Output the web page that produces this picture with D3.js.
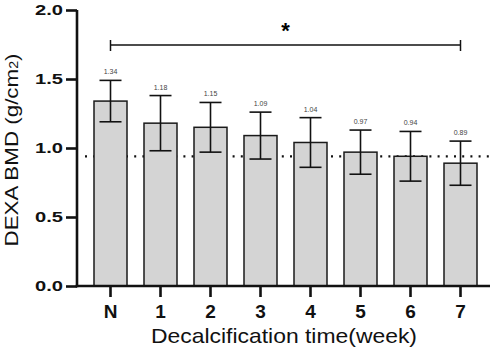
<!DOCTYPE html>
<html>
<head>
<meta charset="utf-8">
<script src="https://cdn.jsdelivr.net/npm/d3@7"></script>
<style>
  body { margin: 0; background: #fff; }
  svg text { font-family: Arial, "Liberation Sans", sans-serif; }
</style>
</head>
<body>
<svg id="chart"></svg>
<script>
//data
const groups = ["N", "1", "2", "3", "4", "5", "6", "7"];
const means = [1.34, 1.18, 1.15, 1.09, 1.04, 0.97, 0.94, 0.89];
const sds = [0.15, 0.20, 0.18, 0.17, 0.18, 0.16, 0.18, 0.16];
const labels = ["1.34", "1.18", "1.15", "1.09", "1.04", "0.97", "0.94", "0.89"];
const yTicks = [0, 0.5, 1.0, 1.5, 2.0];
const refLine = 0.94;

//constants
const W = 498, H = 351;
const x0 = 77, y0 = 286;

const svg = d3.select("#chart")
    .attr("width", W)
    .attr("height", H);

//scales
const yScale = d3.scaleLinear()
    .domain([0, 2])
    .range([y0, 10]);

const xBand = d3.scaleBand()
    .domain(groups)
    .range([85.5, 485.5])
    .paddingInner(0.34)
    .paddingOuter(0.17);

const cx = d => xBand(d) + xBand.bandwidth() / 2;

//dotted reference line
svg.append("line")
    .attr("x1", 85)
    .attr("x2", 492)
    .attr("y1", yScale(refLine))
    .attr("y2", yScale(refLine))
    .attr("stroke", "#111")
    .attr("stroke-width", 2.2)
    .attr("stroke-dasharray", "2,6.2");

//bars
svg.selectAll(".bar")
    .data(groups)
    .enter()
    .append("rect")
    .attr("class", "bar")
    .attr("x", d => xBand(d))
    .attr("y", (d, i) => yScale(means[i]))
    .attr("width", xBand.bandwidth())
    .attr("height", (d, i) => y0 - yScale(means[i]))
    .attr("fill", "#d4d4d4")
    .attr("stroke", "#1a1a1a")
    .attr("stroke-width", 1.5);

//error bars
const capW = 11;
const err = svg.append("g")
    .attr("stroke", "#111")
    .attr("stroke-width", 1.6);

groups.forEach((g, i) => {
    const hi = yScale(means[i] + sds[i]);
    const lo = yScale(means[i] - sds[i]);
    err.append("line").attr("x1", cx(g)).attr("x2", cx(g)).attr("y1", hi).attr("y2", lo);
    err.append("line").attr("x1", cx(g) - capW).attr("x2", cx(g) + capW).attr("y1", hi).attr("y2", hi);
    err.append("line").attr("x1", cx(g) - capW).attr("x2", cx(g) + capW).attr("y1", lo).attr("y2", lo);
});

//value labels
svg.selectAll(".val")
    .data(groups)
    .enter()
    .append("text")
    .attr("class", "val")
    .attr("x", d => cx(d))
    .attr("y", (d, i) => yScale(means[i] + sds[i]) - 6)
    .attr("text-anchor", "middle")
    .style("font-size", "7px")
    .style("fill", "#444")
    .text((d, i) => labels[i]);

//significance bracket
const bx1 = cx(groups[0]), bx2 = cx(groups[groups.length - 1]);
const by = 45;
const br = svg.append("g").attr("stroke", "#111").attr("stroke-width", 1.5);
br.append("line").attr("x1", bx1).attr("x2", bx2).attr("y1", by).attr("y2", by);
br.append("line").attr("x1", bx1).attr("x2", bx1).attr("y1", by - 5).attr("y2", by + 6);
br.append("line").attr("x1", bx2).attr("x2", bx2).attr("y1", by - 5).attr("y2", by + 6);

svg.append("text")
    .attr("x", (bx1 + bx2) / 2)
    .attr("y", 38)
    .attr("text-anchor", "middle")
    .style("font-size", "22px")
    .style("font-weight", "bold")
    .text("*");

//axes
const yAxis = d3.axisLeft(yScale)
    .tickValues(yTicks)
    .tickFormat(d3.format(".1f"))
    .tickSize(11)
    .tickPadding(3)
    .tickSizeOuter(0);

const gY = svg.append("g")
    .attr("transform", "translate(" + x0 + ",0)")
    .call(yAxis);

gY.select(".domain").attr("stroke", "#111").attr("stroke-width", 2.6)
    .attr("d", "M0," + (y0 + 1.3) + "V" + yScale(2));
gY.selectAll(".tick line").attr("stroke", "#111").attr("stroke-width", 2.6);
gY.selectAll(".tick text")
    .style("font-size", "15.5px")
    .style("font-weight", "bold")
    .style("fill", "#111")
    .attr("textLength", 28)
    .attr("lengthAdjust", "spacingAndGlyphs");

const xAxis = d3.axisBottom(xBand)
    .tickSize(11)
    .tickPadding(8)
    .tickSizeOuter(0);

const gX = svg.append("g")
    .attr("transform", "translate(0," + y0 + ")")
    .call(xAxis);

gX.select(".domain").attr("stroke", "#111").attr("stroke-width", 2.6)
    .attr("d", "M" + (x0 - 1.3) + ",0H490");
gX.selectAll(".tick line").attr("stroke", "#111").attr("stroke-width", 2.6);
gX.selectAll(".tick text")
    .style("font-size", "19px")
    .style("font-weight", "bold")
    .style("fill", "#111");

//axis titles
svg.append("text")
    .attr("x", 284)
    .attr("y", 343)
    .attr("text-anchor", "middle")
    .attr("textLength", 266)
    .attr("lengthAdjust", "spacingAndGlyphs")
    .style("font-size", "21px")
    .style("fill", "#111")
    .text("Decalcification time(week)");

const yt = svg.append("text")
    .attr("transform", "translate(18,150) rotate(-90)")
    .attr("text-anchor", "middle")
    .attr("textLength", 193)
    .attr("lengthAdjust", "spacingAndGlyphs")
    .style("font-size", "19px")
    .style("fill", "#111");
yt.append("tspan").text("DEXA BMD (g/cm");
yt.append("tspan").style("font-size", "12px").text("2");
yt.append("tspan").text(")");
</script>
</body>
</html>
